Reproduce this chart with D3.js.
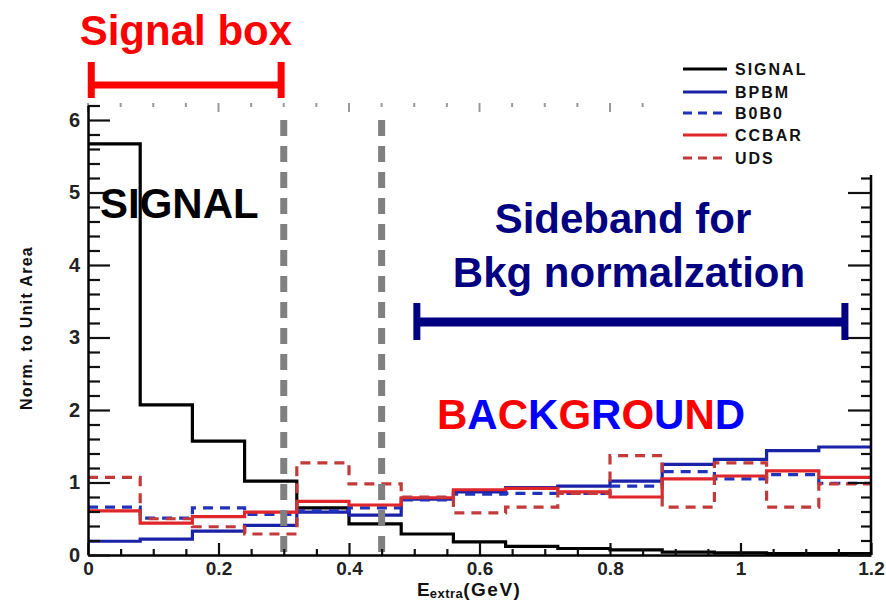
<!DOCTYPE html>
<html>
<head>
<meta charset="utf-8">
<script src="https://cdn.jsdelivr.net/npm/d3@7"></script>
<style>
  body { margin: 0; background: #fff; }
  svg { display: block; font-family: "Liberation Sans", Arial, Helvetica, sans-serif; }
</style>
</head>
<body>
<div id="chart"></div>
<script>
var svgWidth = 886;
var svgHeight = 602;

// bin edges in E_extra (GeV)
var binEdges = [0, 0.08, 0.16, 0.24, 0.32, 0.40, 0.48, 0.56, 0.64, 0.72, 0.80, 0.88, 0.96, 1.04, 1.12, 1.20];

// per-bin contents (normalised to unit area)
var signal = [5.67, 2.07, 1.57, 1.02, 0.65, 0.43, 0.29, 0.18, 0.12, 0.09, 0.07, 0.04, 0.03, 0.02, 0.02];
var bpbm   = [0.19, 0.22, 0.33, 0.41, 0.59, 0.55, 0.77, 0.87, 0.93, 0.95, 1.02, 1.25, 1.32, 1.44, 1.49];
var b0b0   = [0.66, 0.51, 0.65, 0.56, 0.61, 0.65, 0.76, 0.84, 0.85, 0.85, 0.95, 1.15, 1.05, 1.11, 0.99];
var ccbar  = [0.61, 0.44, 0.53, 0.59, 0.74, 0.69, 0.79, 0.90, 0.92, 0.87, 0.80, 1.05, 1.09, 1.16, 1.07];
var uds    = [1.07, 0.50, 0.39, 0.29, 1.27, 0.98, 0.80, 0.58, 0.66, 0.85, 1.37, 0.66, 1.27, 0.66, 0.98];

var seriesNames = ["SIGNAL", "BPBM", "B0B0", "CCBAR", "UDS"];

var xTicks = [0, 0.2, 0.4, 0.6, 0.8, 1, 1.2];
var yTicks = [0, 1, 2, 3, 4, 5, 6];

var signalBox = [0, 0.30];
var sideband = [0.50, 1.16];
var cutLines = [0.30, 0.45];

var series = [
  { name: seriesNames[0], values: signal, color: "#000000", dash: null },
  { name: seriesNames[1], values: bpbm,   color: "#1a22a8", dash: null },
  { name: seriesNames[2], values: b0b0,   color: "#2233bb", dash: "10,7" },
  { name: seriesNames[3], values: ccbar,  color: "#e0262a", dash: null },
  { name: seriesNames[4], values: uds,    color: "#c23a3a", dash: "10,7" }
];

var svg = d3.select("#chart")
  .append("svg")
  .attr("width", svgWidth)
  .attr("height", svgHeight);

var xScale = d3.scaleLinear().domain([0, 1.2]).range([88, 871]);
var yScale = d3.scaleLinear().domain([0, 6.2]).range([555, 105.5]);

// top frame: faint ticks only
var topMinor = d3.range(0, 1.2001, 0.05);
svg.append("g").selectAll("line")
  .data(topMinor)
  .enter()
  .append("line")
  .attr("x1", d => xScale(d))
  .attr("x2", d => xScale(d))
  .attr("y1", 103)
  .attr("y2", (d, i) => i % 4 == 0 ? 112 : 107)
  .attr("stroke", "#999")
  .attr("stroke-width", 2);

// histograms
function stepPath(vals) {
  var pts = vals.map((v, i) => [binEdges[i], v]);
  pts.push([binEdges[vals.length], vals[vals.length - 1]]);
  return d3.line()
    .x(d => xScale(d[0]))
    .y(d => yScale(d[1]))
    .curve(d3.curveStepAfter)(pts);
}

series.forEach(function(s) {
  svg.append("path")
    .attr("d", stepPath(s.values))
    .attr("fill", "none")
    .attr("stroke", s.color)
    .attr("stroke-width", 3.2)
    .attr("stroke-dasharray", s.dash);
});

// gray cut lines
svg.append("g").selectAll("line")
  .data(cutLines)
  .enter()
  .append("line")
  .attr("x1", d => xScale(d))
  .attr("x2", d => xScale(d))
  .attr("y1", yScale(6.0))
  .attr("y2", yScale(0.03))
  .attr("stroke", "#808080")
  .attr("stroke-width", 7)
  .attr("stroke-dasharray", "16,10");

// axes
var xMinor = d3.range(0, 1.2001, 0.05).filter((d, i) => i % 4 != 0);
var yMinor = d3.range(0, 6.2001, 0.2).filter((d, i) => i % 5 != 0);

svg.append("g")
  .attr("transform", `translate(0, ${yScale(0)})`)
  .call(d3.axisBottom(xScale).tickValues(xMinor).tickSize(-6).tickSizeOuter(0).tickFormat(""))
  .call(g => g.select(".domain").remove());

svg.append("g")
  .attr("class", "xaxis")
  .attr("transform", `translate(0, ${yScale(0)})`)
  .call(d3.axisBottom(xScale).tickValues(xTicks).tickSize(-12).tickSizeOuter(0)
    .tickPadding(7).tickFormat(d3.format("~g")));

svg.append("g")
  .attr("transform", `translate(${xScale(0)}, 0)`)
  .call(d3.axisLeft(yScale).tickValues(yMinor).tickSize(-12).tickSizeOuter(0).tickFormat(""))
  .call(g => g.select(".domain").remove());

svg.append("g")
  .attr("class", "yaxis")
  .attr("transform", `translate(${xScale(0)}, 0)`)
  .call(d3.axisLeft(yScale).tickValues(yTicks).tickSize(-22).tickSizeOuter(0)
    .tickPadding(8).tickFormat(d3.format("d")));

svg.append("g")
  .attr("transform", `translate(${xScale(1.2)}, 0)`)
  .call(d3.axisRight(yScale).tickValues(yMinor).tickSize(-10).tickSizeOuter(0).tickFormat(""))
  .call(g => g.select(".domain").remove());

svg.append("g")
  .attr("transform", `translate(${xScale(1.2)}, 0)`)
  .call(d3.axisRight(yScale).tickValues(yTicks).tickSize(-23).tickSizeOuter(0).tickFormat(""))
  .call(g => g.select(".domain").remove());

svg.append("line")
  .attr("x1", xScale(1.2)).attr("x2", xScale(1.2))
  .attr("y1", yScale(0)).attr("y2", 175)
  .attr("stroke", "#000").attr("stroke-width", 2.5);

svg.selectAll(".tick line").attr("stroke-width", 2.2).attr("stroke", "#111");
svg.selectAll(".domain").attr("stroke-width", 2.5);
svg.selectAll(".xaxis text, .yaxis text")
  .attr("font-size", 19)
  .attr("font-weight", "bold")
  .attr("fill", "#222")
  .style("font-family", "'Liberation Sans', Arial, sans-serif");
svg.selectAll(".yaxis text").attr("font-size", 20);

// legend box (covers top right of frame)
svg.append("rect")
  .attr("x", 652).attr("y", 40)
  .attr("width", 234).attr("height", 135)
  .attr("fill", "#fff");

var legendY = [69, 92, 113, 135, 158];
var legend = svg.append("g").selectAll("g")
  .data(series)
  .enter()
  .append("g")
  .attr("transform", (d, i) => `translate(0, ${legendY[i]})`);

legend.append("line")
  .attr("x1", 683).attr("x2", 727)
  .attr("y1", 0).attr("y2", 0)
  .attr("stroke", d => d.color)
  .attr("stroke-width", 3)
  .attr("stroke-dasharray", d => d.dash ? "9,6" : null);

legend.append("text")
  .attr("x", 735)
  .attr("dy", "0.36em")
  .attr("font-size", 16)
  .attr("font-weight", "bold")
  .attr("letter-spacing", 2)
  .attr("fill", "#111")
  .text(d => d.name);

// axis titles
svg.append("text")
  .attr("transform", "translate(32, 328) rotate(-90)")
  .attr("text-anchor", "middle")
  .attr("font-size", 16)
  .attr("font-weight", "bold")
  .attr("letter-spacing", 1.3)
  .attr("fill", "#111")
  .text("Norm. to Unit Area");

var xt = svg.append("text")
  .attr("x", 417)
  .attr("y", 596)
  .attr("font-weight", "bold")
  .attr("fill", "#111");
xt.append("tspan").attr("font-size", 19).text("E");
xt.append("tspan").attr("font-size", 13).attr("dy", 2).attr("letter-spacing", 0.5).text("extra");
xt.append("tspan").attr("font-size", 19).attr("dy", -2).attr("letter-spacing", 1.5).text("(GeV)");

// signal box annotation
svg.append("text")
  .attr("x", (xScale(signalBox[0]) + xScale(signalBox[1])) / 2)
  .attr("y", 45)
  .attr("text-anchor", "middle")
  .attr("font-size", 42)
  .attr("font-weight", "bold")
  .attr("fill", "#ff0000")
  .text("Signal box");

function bracket(range, yc, capTop, capBot, color, thick) {
  var g = svg.append("g").attr("stroke", color);
  g.append("line")
    .attr("x1", xScale(range[0])).attr("x2", xScale(range[1]))
    .attr("y1", yc).attr("y2", yc)
    .attr("stroke-width", thick);
  g.selectAll(".cap")
    .data(range)
    .enter()
    .append("line")
    .attr("x1", d => xScale(d)).attr("x2", d => xScale(d))
    .attr("y1", capTop).attr("y2", capBot)
    .attr("stroke-width", 7);
}

bracket([signalBox[0] + 0.005, signalBox[1] - 0.004], 85, 62, 98, "#ff0000", 7);
bracket([sideband[0] + 0.004, sideband[1]], 322, 303, 340, "#000080", 9);

svg.append("text")
  .attr("x", 100)
  .attr("y", 218)
  .attr("font-size", 42)
  .attr("font-weight", "bold")
  .attr("fill", "#000")
  .text("SIGNAL");

svg.append("text")
  .attr("x", 623)
  .attr("y", 233)
  .attr("text-anchor", "middle")
  .attr("font-size", 42)
  .attr("font-weight", "bold")
  .attr("fill", "#000080")
  .text("Sideband for");

svg.append("text")
  .attr("x", 629)
  .attr("y", 287)
  .attr("text-anchor", "middle")
  .attr("font-size", 42)
  .attr("font-weight", "bold")
  .attr("fill", "#000080")
  .text("Bkg normalzation");

var bg = svg.append("text")
  .attr("x", 437)
  .attr("y", 429)
  .attr("font-size", 42)
  .attr("font-weight", "bold");
bg.selectAll("tspan")
  .data("BACKGROUND".split(""))
  .enter()
  .append("tspan")
  .attr("fill", (d, i) => i % 2 == 0 ? "#ff0000" : "#0000ff")
  .text(d => d);
</script>
</body>
</html>
